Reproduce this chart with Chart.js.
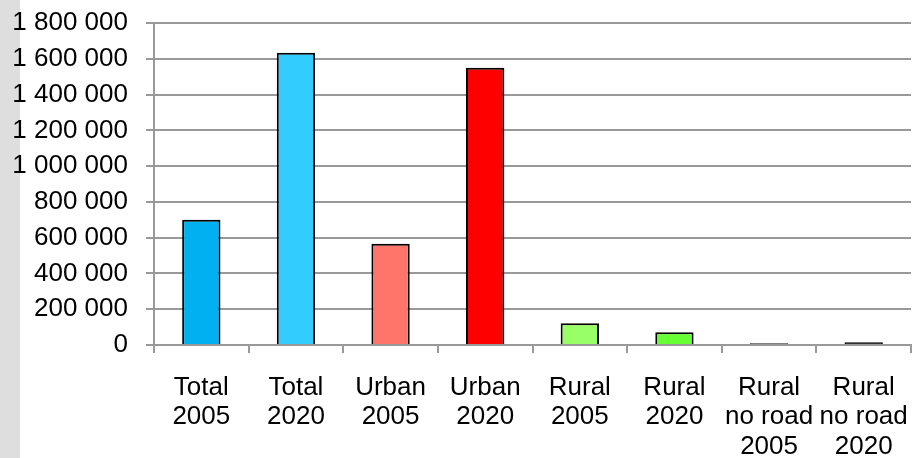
<!DOCTYPE html>
<html>
<head>
<meta charset="utf-8">
<script src="https://cdn.jsdelivr.net/npm/chart.js@4"></script>
<style>
  html, body { margin: 0; padding: 0; }
  body { background: linear-gradient(to right, #dedede 0, #dedede 20px, #ffffff 20px); }
  #wrap { width: 913px; height: 458px; position: relative; }
</style>
</head>
<body>
<div id="wrap"><canvas id="chart"></canvas></div>
<script>
const categories = [
  ['Total', '2005'], ['Total', '2020'], ['Urban', '2005'], ['Urban', '2020'],
  ['Rural', '2005'], ['Rural', '2020'], ['Rural', 'no road', '2005'], ['Rural', 'no road', '2020']
];
const values = [700000, 1634000, 566000, 1550000, 122000, 71000, 10000, 15000];
const barColors = ['#00b0f0', '#33ccff', '#ff7569', '#ff0000', '#99ff66', '#66ff33', '#000000', '#000000'];
const yMax = 1800000;
const yStep = 200000;

function formatAxis(value) {
  return String(value).replace(/\B(?=(\d{3})+(?!\d))/g, ' ');
}

const labelFont = { family: 'Liberation Sans, Arial, sans-serif', size: 26, lineHeight: 1.13 };
const gridGray = '#999999';

new Chart(document.getElementById('chart'), {
  type: 'bar',
  data: {
    labels: categories,
    datasets: [{
      data: values,
      backgroundColor: barColors,
      borderColor: '#000000',
      borderWidth: 2,
      barPercentage: 0.405,
      categoryPercentage: 1
    }]
  },
  options: {
    responsive: true,
    maintainAspectRatio: false,
    animation: false,
    layout: { padding: { top: 23, right: 2, left: 0, bottom: 0 } },
    plugins: { legend: { display: false }, tooltip: { enabled: false } },
    scales: {
      y: {
        min: 0,
        max: yMax,
        ticks: { stepSize: yStep, callback: formatAxis, font: labelFont, color: '#000000', padding: 18 },
        grid: { color: gridGray, lineWidth: 2, tickLength: 8 },
        border: { color: gridGray, width: 2 },
        afterFit(scale) {
          scale.width = 154;
          scale.paddingTop = 0;
          scale.paddingBottom = 0;
        }
      },
      x: {
        ticks: { font: labelFont, color: '#000000', padding: 20, maxRotation: 0, autoSkip: false },
        grid: { offset: true, drawOnChartArea: false, drawTicks: true, tickLength: 8, color: gridGray, lineWidth: 2 },
        border: { color: gridGray, width: 2 },
        afterFit(scale) {
          scale.height = 113;
          scale.paddingLeft = 0;
          scale.paddingRight = 0;
        }
      }
    }
  }
});
</script>
</body>
</html>
